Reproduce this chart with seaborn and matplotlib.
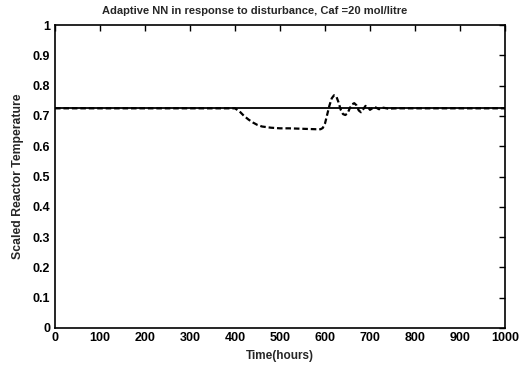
import matplotlib
matplotlib.use('Agg')
import matplotlib.pyplot as plt
import seaborn as sns

# setpoint (solid) line
setpoint_t = [0, 1000]
setpoint_y = [0.725, 0.725]

# adaptive NN response (dashed)
resp_t = [0, 400, 410, 420, 430, 440, 450, 460, 480, 500, 520, 540, 560, 580, 590, 595,
          600, 605, 610, 615, 620, 625, 630, 635, 640, 645, 650, 655, 660, 665, 670,
          675, 680, 685, 690, 695, 700, 710, 720, 730, 740, 760, 800, 1000]
resp_y = [0.725, 0.725, 0.715, 0.700, 0.688, 0.678, 0.670, 0.665, 0.661, 0.659, 0.659,
          0.658, 0.657, 0.656, 0.656, 0.660, 0.675, 0.705, 0.735, 0.758, 0.768, 0.765,
          0.745, 0.720, 0.706, 0.703, 0.708, 0.725, 0.738, 0.742, 0.735, 0.718, 0.712,
          0.722, 0.733, 0.730, 0.720, 0.730, 0.722, 0.727, 0.724, 0.725, 0.725, 0.725]

x_ticks = [0, 100, 200, 300, 400, 500, 600, 700, 800, 900, 1000]
y_ticks = [0, 0.1, 0.2, 0.3, 0.4, 0.5, 0.6, 0.7, 0.8, 0.9, 1]
y_labels = ['0', '0.1', '0.2', '0.3', '0.4', '0.5', '0.6', '0.7', '0.8', '0.9', '1']


def main():
    sns.set_style('white')
    plt.rcParams['font.family'] = ['Liberation Sans', 'DejaVu Sans']

    fig = plt.figure(figsize=(5.26, 3.67), dpi=100)
    ax = fig.add_axes([55 / 526, 1 - 328 / 367, 450 / 526, 303 / 367])

    sns.lineplot(x=setpoint_t, y=setpoint_y, ax=ax, color='black', linewidth=1.3)
    sns.lineplot(x=resp_t, y=resp_y, ax=ax, color='black', linewidth=1.6,
                 linestyle=(0, (2.5, 1.3)))

    ax.set_xlim(0, 1000)
    ax.set_ylim(0, 1)
    ax.set_xticks(x_ticks)
    ax.set_yticks(y_ticks)
    ax.set_yticklabels(y_labels)
    ax.tick_params(direction='in', top=True, right=True, length=4, width=1,
                   labelsize=9, colors='black')
    ax.tick_params(axis='x', pad=3)
    for lab in ax.get_xticklabels() + ax.get_yticklabels():
        lab.set_fontweight('bold')
    for s in ax.spines.values():
        s.set_color('black')
        s.set_linewidth(1.2)

    ax.set_xlabel('Time(hours)', fontsize=8.5, fontweight='bold', labelpad=4)
    ax.set_ylabel('Scaled Reactor Temperature', fontsize=8.8, fontweight='bold', labelpad=6)
    # title sits left of the axes centre in the original
    fig.text(255 / 526, 1 - 11 / 367,
             'Adaptive NN in response to disturbance, Caf =20 mol/litre',
             fontsize=8, fontweight='bold', ha='center', va='center')

    fig.savefig('out.png', dpi=100)


if __name__ == '__main__':
    main()
